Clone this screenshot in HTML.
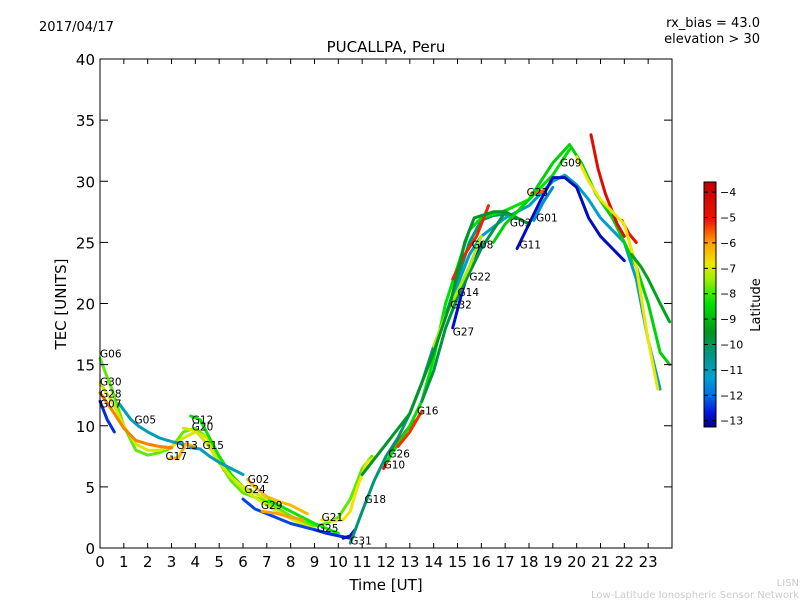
<!DOCTYPE html>
<html><head><meta charset="utf-8"><style>
body{margin:0;background:#fff;}
svg text{font-family:"DejaVu Sans","Liberation Sans",sans-serif;}
</style></head><body>
<svg id="c" width="800" height="600" xmlns="http://www.w3.org/2000/svg">
<rect width="800" height="600" fill="#fff"/>
<text x="39" y="31" font-size="13">2017/04/17</text>
<text x="760" y="27" font-size="13" text-anchor="end">rx_bias = 43.0</text>
<text x="760" y="43" font-size="13" text-anchor="end">elevation &gt; 30</text>
<text x="386" y="52" font-size="15" text-anchor="middle">PUCALLPA, Peru</text>
<g id="marks"></g>
<rect x="100" y="59" width="572" height="489" fill="none" stroke="#000" stroke-width="1"/>
<g id="axes"></g>
<text x="386" y="590" font-size="15" text-anchor="middle">Time [UT]</text>
<text x="66" y="304" font-size="15" text-anchor="middle" transform="rotate(-90 66 304)">TEC [UNITS]</text>
<defs><linearGradient id="cmap" x1="0" y1="1" x2="0" y2="0"></linearGradient></defs>
<rect x="704" y="182" width="12" height="245" fill="url(#cmap)" stroke="#000" stroke-width="1"/>
<g id="cbticks"></g>
<text x="760" y="305" font-size="13" text-anchor="middle" transform="rotate(-90 760 305)">Latitude</text>
<text x="799" y="586" font-size="10" fill="#ccc" text-anchor="end">LISN</text>
<text x="799" y="598" font-size="10" fill="#ccc" text-anchor="end">Low-Latitude Ionospheric Sensor Network</text>
</svg>
<script>
const xTicks=[0,1,2,3,4,5,6,7,8,9,10,11,12,13,14,15,16,17,18,19,20,21,22,23];
const yTicks=[0,5,10,15,20,25,30,35,40];
const cbTicks=[-4,-5,-6,-7,-8,-9,-10,-11,-12,-13];
const seriesNames=["G06","G30","G28","G07","G05","G17","G12","G20","G15","G02","G24","G29","G25","G31","G21","G18","G10","G26","G16","G32","G27","G14","G22","G08","G03","G11","G01","G23","G09","SAT-R1","SAT-R2","SAT-Y","SAT-G"];
const seriesHours=[
[0,0.5,1,1.5,2,2.5,3,3.5,4,4.5,5,5.5,6,7,8,9,9.5,10,10.5,11,11.4],
[0,0.5,1,1.5,2,2.5,3,3.5,4,4.5,5,5.5,6,7,8,9],
[0,0.5,1,1.5,2,2.5,3],
[0,0.3,0.6],
[0.8,1.3,1.6,2,2.5,3,3.5],
[2.9,3.3,3.6,4],
[3.8,4.2,4.6,5,5.5,6,7,8,9,10],
[3.5,4,4.5,5,5.5,6,7],
[3.8,4.2,4.6,5,5.5,6],
[6.2,6.5,7,7.5,8,8.7],
[6,6.5,7,8,9,10,10.5],
[6.8,7.5,8,8.5],
[9,9.5,10,10.5],
[10.2,10.5,10.7],
[9.3,9.8,10.2,10.5,10.8,11.2,11.6],
[10.5,11,11.5,12,12.5,13,13.5,14,14.5,15,15.5,16,16.5,17,17.5,18],
[11.9,12.3,12.8,13.3],
[12,12.5,13,13.5,14,14.5,15,15.5,16,17,18,19,19.7],
[12.5,13,13.5],
[14.5,15,15.5,16,17,18,19,19.5,20,20.5,21,22,22.5,23,23.5,23.9],
[14.8,15.2,15.6,16],
[13.5,14,14.5,15,15.5,16,16.5,17],
[14,14.5,15,15.5,16],
[14.8,15.3,15.8,16.3],
[11,12,13,14,14.7,15.3,15.7,16.5,17,17.5,18],
[17.5,18,18.5,19,19.5,20,20.5,21,21.5,22],
[18.2,18.6,19],
[18.1,18.6],
[16.5,17,18,19,19.7,20.2,20.8,21.5,22,22.5,23,23.5,23.9],
[20.6,20.9,21.2,21.7,22],
[21.9,22.2,22.5],
[20,20.5,21,22,22.5,23,23.4],
[22.3,22.7,23,23.5,23.9]];
const seriesTec=[
[15.5,13,10,8,7.6,7.8,8.2,9.5,9.8,9,7,5.5,4.5,3.8,2.6,1.8,2,2.5,4,6.5,7.5],
[13.5,12,10,8.5,8,8,8.3,9,9.5,9,7.5,6,4.8,3.5,2.4,1.5],
[12.7,11.3,9.8,8.8,8.5,8.3,8.2],
[12,10.5,9.5],
[11.8,10.5,10,9.5,9,8.7,8.5],
[7.3,7.4,8.5,8.3],
[10.8,10.5,9,7.5,6,5,4,3,2,1.2],
[9.8,9.6,8.5,7,5.8,5,4],
[8.2,8.1,7.5,7,6.5,6],
[5.6,5,4.2,3.8,3.5,2.8],
[4,3.2,2.8,2,1.5,1,0.8],
[3,2.8,2.5,2.3],
[1.5,1.2,1,0.8],
[0.8,1,1.5],
[2.3,2.2,2.3,3,5,7,7.5],
[0.4,3,5.5,7.5,9,11,13.5,16.5,19,22,25,26.8,27.2,27.3,27,26.5],
[6.5,8,9.5,10.5],
[7,8.5,10,12,15.5,20,23,26,27,27.6,28.5,30.5,32.6],
[8.3,9.5,11.2],
[19,21.5,24,25.5,27,28,30,30.5,29.7,28.5,27,25,22,17,13],
[18,21,23.5,25],
[12,14.5,18,20.5,22.5,24.5,26,27.5],
[16.5,19,21,23,25.5],
[22,24,25.5,28],
[6,8.5,11,16,20,25,27,27.5,27.5,27,26.5],
[24.5,26.5,28.5,30.3,30.3,29.5,27,25.5,24.5,23.5],
[26.8,28.3,29.5],
[29,29.2],
[25,26.5,28.5,31.5,33,31.5,29,27,25,23,20,16,15],
[33.8,31,29,26.5,25.5],
[26.8,25.7,25],
[32,30,28.5,26.5,23,17,13],
[24,23,22,20,18.5]];
const seriesLat=[-7.8,-7,-5.8,-12.5,-11,-6.2,-8.3,-7,-11,-6.3,-12.3,-6,-12.5,-12.8,-6.8,-10.3,-5,-8.4,-5.3,-11.2,-12.8,-9.8,-7.3,-5.2,-9.6,-12.9,-11.6,-5.6,-8.6,-4.6,-4.8,-6.8,-9.3];
const labelNames=["G06","G30","G28","G07","G05","G17","G12","G20","G15","G13","G02","G24","G29","G25","G21","G31","G18","G10","G26","G16","G32","G27","G14","G22","G08","G03","G11","G01","G23","G09"];
const labelHours=[0,0,0,0,1.45,2.75,3.85,3.85,4.3,3.2,6.2,6.05,6.75,9.1,9.3,10.5,11.1,11.9,12.1,13.3,14.7,14.8,15,15.5,15.6,17.2,17.6,18.3,17.9,19.3];
const labelTec=[15.6,13.3,12.3,11.5,10.2,7.2,10.2,9.6,8.1,8.1,5.3,4.5,3.2,1.3,2.2,0.3,3.7,6.5,7.4,10.9,19.6,17.4,20.6,21.9,24.5,26.3,24.5,26.7,28.8,31.2];

const cmapLat=[-13.25,-12.7,-12,-11.3,-10.5,-9.5,-8.4,-7.4,-6.8,-6,-5.1,-3.6];
const cmapRGB=[[0,0,140],[0,20,220],[0,110,230],[0,160,210],[0,150,140],[0,150,30],[0,225,0],[160,240,0],[240,230,0],[255,160,0],[240,20,0],[190,0,0]];

const X0=100,X1=672,Y0=548,Y1=59;
function xs(h){return X0+(X1-X0)*h/24;}
function ys(v){return Y0-(Y0-Y1)*v/40;}
function latColor(l){
  if(l<=cmapLat[0]) return `rgb(${cmapRGB[0]})`;
  for(let i=1;i<cmapLat.length;i++){
    if(l<=cmapLat[i]){
      const t=(l-cmapLat[i-1])/(cmapLat[i]-cmapLat[i-1]);
      const c=cmapRGB[i-1].map((v,k)=>Math.round(v+(cmapRGB[i][k]-v)*t));
      return `rgb(${c})`;
    }
  }
  return `rgb(${cmapRGB[cmapRGB.length-1]})`;
}
const NS="http://www.w3.org/2000/svg";
const grad=document.getElementById('cmap');
cmapLat.forEach((l,i)=>{
  const s=document.createElementNS(NS,'stop');
  s.setAttribute('offset',((l-cmapLat[0])/(cmapLat[cmapLat.length-1]-cmapLat[0])).toFixed(3));
  s.setAttribute('stop-color',`rgb(${cmapRGB[i]})`);
  grad.appendChild(s);
});
const marks=document.getElementById('marks');
for(let i=0;i<seriesNames.length;i++){
  const p=document.createElementNS(NS,'polyline');
  p.setAttribute('points',seriesHours[i].map((h,j)=>xs(h).toFixed(1)+','+ys(seriesTec[i][j]).toFixed(1)).join(' '));
  p.setAttribute('fill','none');
  p.setAttribute('stroke',latColor(seriesLat[i]));
  p.setAttribute('stroke-width','3');
  p.setAttribute('stroke-linejoin','round');
  p.setAttribute('stroke-linecap','round');
  
  
  marks.appendChild(p);
}
for(let i=0;i<labelNames.length;i++){
  const t=document.createElementNS(NS,'text');
  t.setAttribute('x',xs(labelHours[i]));
  t.setAttribute('y',ys(labelTec[i]));
  t.setAttribute('font-size','10.5');
  t.textContent=labelNames[i];
  
  
  marks.appendChild(t);
}
const axes=document.getElementById('axes');
xTicks.forEach(v=>{
  const x=xs(v);
  const l=document.createElementNS(NS,'path');
  l.setAttribute('d',`M${x},${Y0}v-5M${x},${Y1}v5`);
  l.setAttribute('stroke','#000');
  
  
  axes.appendChild(l);
  const t=document.createElementNS(NS,'text');
  t.setAttribute('x',x);t.setAttribute('y',Y0+19);t.setAttribute('font-size','15');t.setAttribute('text-anchor','middle');
  t.textContent=v;
  
  
  axes.appendChild(t);
});
yTicks.forEach(v=>{
  const y=ys(v);
  const l=document.createElementNS(NS,'path');
  l.setAttribute('d',`M${X0},${y}h8M${X1},${y}h-8`);
  l.setAttribute('stroke','#000');
  
  
  axes.appendChild(l);
  const t=document.createElementNS(NS,'text');
  t.setAttribute('x',X0-5);t.setAttribute('y',y+6);t.setAttribute('font-size','15');t.setAttribute('text-anchor','end');
  t.textContent=v;
  
  
  axes.appendChild(t);
});
const cb=document.getElementById('cbticks');
cbTicks.forEach(v=>{
  const y=427-245*(v-cmapLat[0])/(cmapLat[cmapLat.length-1]-cmapLat[0]);
  const l=document.createElementNS(NS,'path');
  l.setAttribute('d',`M704,${y}h4M716,${y}h-4`);
  l.setAttribute('stroke','#000');
  
  
  cb.appendChild(l);
  const t=document.createElementNS(NS,'text');
  t.setAttribute('x',720);t.setAttribute('y',y+4);t.setAttribute('font-size','11');
  t.textContent=String(v).replace('-','\u2212');
  
  
  cb.appendChild(t);
});
</script>
</body></html>
